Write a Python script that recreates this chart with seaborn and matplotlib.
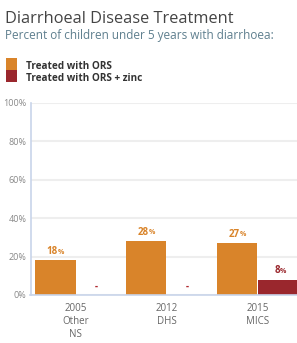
import numpy as np
import pandas as pd
import matplotlib
matplotlib.use("Agg")
import matplotlib.pyplot as plt
from matplotlib.patches import Rectangle
import seaborn as sns

# data
surveys = ["2005\nOther\nNS", "2012\nDHS", "2015\nMICS"]
ors = [18, 28, 27]
ors_zinc = [np.nan, np.nan, 8]
series = ["Treated with ORS", "Treated with ORS + zinc"]
colors = ["#d9842a", "#9a272d"]

df = pd.DataFrame({
    "survey": surveys * 2,
    "series": [series[0]] * 3 + [series[1]] * 3,
    "value": ors + ors_zinc,
})

sns.set_style("white")
plt.rcParams["font.family"] = ["Open Sans", "DejaVu Sans"]

W, H = 297, 343
fig = plt.figure(figsize=(W / 100, H / 100), dpi=100)
ax = fig.add_axes([30.5 / W, 1 - 295 / H, 272.5 / W, 192 / H])

sns.barplot(data=df, x="survey", y="value", hue="series", palette=colors,
            width=0.9, gap=0.02, saturation=1, legend=False, ax=ax,
            linewidth=0, edgecolor="none")

ax.set_ylim(0, 100)
ax.set_xlim(-0.5, 2.5)
ax.set_yticks(range(0, 101, 20))
ax.set_yticklabels([f"{v}%" for v in range(0, 101, 20)], fontsize=6.5, color="#888888")
ax.yaxis.grid(True, color="#eeeeee", linewidth=1.5)
ax.set_axisbelow(True)
ax.tick_params(axis="y", length=0, pad=3)
ax.tick_params(axis="x", which="major", length=0, pad=6, labelsize=7, labelcolor="#666666")
ax.set_xticks([0.5, 1.5], minor=True)
ax.tick_params(axis="x", which="minor", length=6, width=1, color="#c8d4ea", direction="out")
for t in ax.get_xticklabels():
    t.set_linespacing(1.2)
ax.set_xlabel("")
ax.set_ylabel("")
for s in ["top", "right"]:
    ax.spines[s].set_visible(False)
for s in ["left", "bottom"]:
    ax.spines[s].set_color("#c8d4ea")
    ax.spines[s].set_linewidth(1.2)

# value labels
offsets = [-0.2225, 0.2225]
for vals, off, c in zip([ors, ors_zinc], offsets, colors):
    for i, v in enumerate(vals):
        x = i + off
        if np.isnan(v):
            ax.annotate("-", (x, 0), xytext=(0, 6), textcoords="offset points",
                        ha="center", va="center", color="#b02a30",
                        fontsize=7, fontweight="bold")
        else:
            ax.annotate(f"{v:.0f}", (x, v), xytext=(1.5, 6.5), textcoords="offset points",
                        ha="right", va="center", color=c, fontsize=7, fontweight="bold")
            ax.annotate("%", (x, v), xytext=(1.5, 6), textcoords="offset points",
                        ha="left", va="center", color=c, fontsize=5, fontweight="bold")

# title, subtitle, legend
fig.text(5 / W, 1 - 19 / H, "Diarrhoeal Disease Treatment", fontsize=11.8,
         color="#444444", va="center", ha="left")
fig.text(5 / W, 1 - 35 / H, "Percent of children under 5 years with diarrhoea:",
         fontsize=8.5, color="#5e7f8e", va="center", ha="left")
for k, (lab, c) in enumerate(zip(series, colors)):
    y0 = 58 + 12 * k
    fig.add_artist(Rectangle((6 / W, 1 - (y0 + 12) / H), 11 / W, 12 / H,
                             transform=fig.transFigure, color=c, lw=0))
    fig.text(26 / W, 1 - (y0 + 8.5) / H, lab, fontsize=7.2, fontweight="bold",
             color="#333333", va="center", ha="left")

fig.savefig("out.png", dpi=100)
